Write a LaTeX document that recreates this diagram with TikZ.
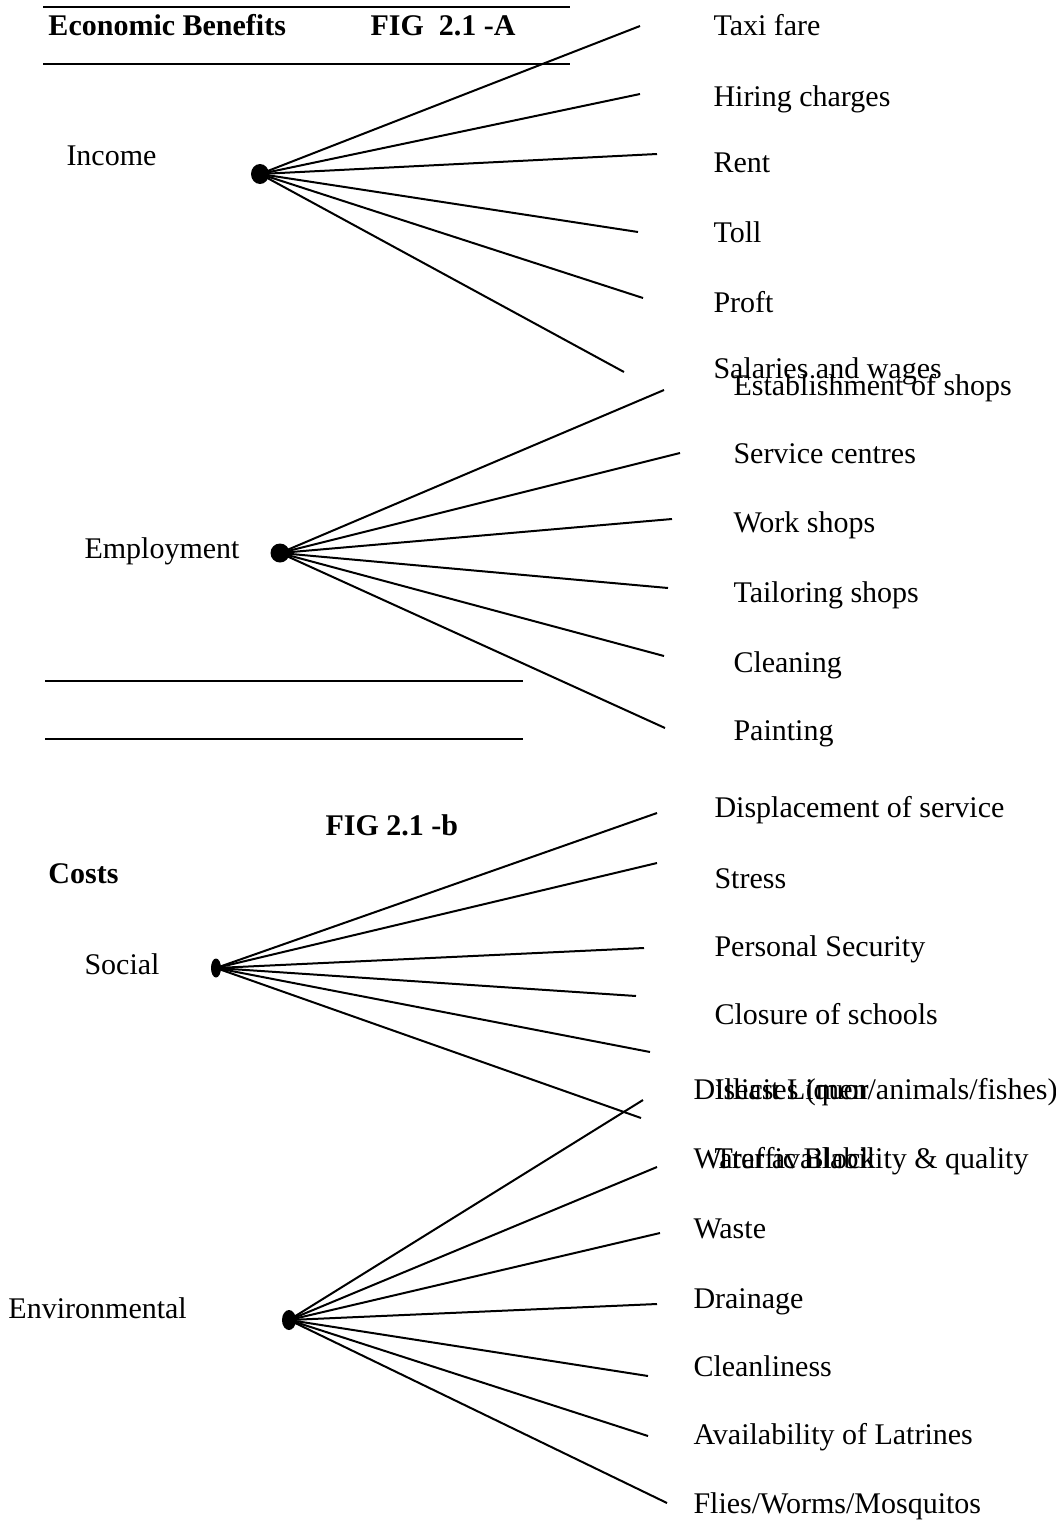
\documentclass[tikz,border=0pt]{standalone}
\usepackage{fontspec}
\setmainfont{Liberation Serif}
\usetikzlibrary{shapes.geometric}
\begin{document}
\begin{tikzpicture}[x=0.4pt,y=-0.4pt,
  lbl/.style={anchor=base west, inner sep=0pt, font=\fontsize{12}{14}\selectfont},
  hdr/.style={anchor=base west, inner sep=0pt, font=\fontsize{12}{14}\selectfont\bfseries},
  hub/.style={ellipse, fill=black, draw=none, inner sep=0pt},
  spoke/.style={line width=0.8pt},
  rulebar/.style={line width=0.9pt}]
\useasboundingbox (0,0) rectangle (1055,1520);
% header rules
\draw[rulebar] (43,7) -- (570,7);
\draw[rulebar] (43,64) -- (570,64);
\draw[rulebar] (45,681) -- (523,681);
\draw[rulebar] (45,739) -- (523,739);
% headings
\node[hdr] (hEcon) at (48,35) {Economic Benefits};
\node[hdr] (hFigA) at (370,35) {FIG~ 2.1 -A};
\node[hdr] (hFigB) at (325,835) {FIG 2.1 -b};
\node[hdr] (hCosts) at (48,883) {Costs};
% category labels
\node[lbl] (lIncome) at (66,165) {Income};
\node[lbl] (lEmp) at (84,558) {Employment};
\node[lbl] (lSoc) at (84,974) {Social};
\node[lbl] (lEnv) at (8,1318) {Environmental};
% hubs
\node[hub, minimum width=7.2pt, minimum height=8pt] (dInc) at (260,174) {};
\node[hub, minimum width=7.6pt, minimum height=7.6pt] (dEmp) at (280,553) {};
\node[hub, minimum width=4pt, minimum height=7.6pt] (dSoc) at (216,968) {};
\node[hub, minimum width=5.6pt, minimum height=8pt] (dEnv) at (289,1320) {};
% income
\coordinate (i1) at (640,26);
\coordinate (i2) at (640,94);
\coordinate (i3) at (657,154);
\coordinate (i4) at (638,232);
\coordinate (i5) at (643,298);
\coordinate (i6) at (624,372);
\foreach \c in {i1,i2,i3,i4,i5,i6} \draw[spoke] (dInc.center) -- (\c);
\node[lbl] (tI1) at (713,35) {Taxi fare};
\node[lbl] (tI2) at (713,106) {Hiring charges};
\node[lbl] (tI3) at (713,172) {Rent};
\node[lbl] (tI4) at (713,242) {Toll};
\node[lbl] (tI5) at (713,312) {Proft};
\node[lbl] (tI6) at (713,378) {Salaries and wages};
% employment
\coordinate (e1) at (664,390);
\coordinate (e2) at (680,453);
\coordinate (e3) at (672,519);
\coordinate (e4) at (668,588);
\coordinate (e5) at (664,656);
\coordinate (e6) at (665,728);
\foreach \c in {e1,e2,e3,e4,e5,e6} \draw[spoke] (dEmp.center) -- (\c);
\node[lbl] (tE1) at (733,395) {Establishment of shops};
\node[lbl] (tE2) at (733,463) {Service centres};
\node[lbl] (tE3) at (733,532) {Work shops};
\node[lbl] (tE4) at (733,602) {Tailoring shops};
\node[lbl] (tE5) at (733,672) {Cleaning};
\node[lbl] (tE6) at (733,740) {Painting};
% social
\coordinate (s1) at (657,813);
\coordinate (s2) at (657,863);
\coordinate (s3) at (644,948);
\coordinate (s4) at (636,996);
\coordinate (s5) at (650,1052);
\coordinate (s6) at (641,1118);
\foreach \c in {s1,s2,s3,s4,s5,s6} \draw[spoke] (dSoc.center) -- (\c);
\node[lbl] (tS1) at (714,817) {Displacement of service};
\node[lbl] (tS2) at (714,888) {Stress};
\node[lbl] (tS3) at (714,956) {Personal Security};
\node[lbl] (tS4) at (714,1024) {Closure of schools};
\node[lbl] (tS5) at (714,1099) {Illicit Liquor};
\node[lbl] (tS6) at (714,1168) {Traffic Block};
% environmental
\coordinate (v1) at (643,1100);
\coordinate (v2) at (657,1167);
\coordinate (v3) at (660,1233);
\coordinate (v4) at (657,1304);
\coordinate (v5) at (648,1376);
\coordinate (v6) at (648,1436);
\coordinate (v7) at (667,1503);
\foreach \c in {v1,v2,v3,v4,v5,v6,v7} \draw[spoke] (dEnv.center) -- (\c);
\node[lbl] (tV1) at (693,1099) {Diseases (men/animals/fishes)};
\node[lbl] (tV2) at (693,1168) {Water availability \& quality};
\node[lbl] (tV3) at (693,1238) {Waste};
\node[lbl] (tV4) at (693,1308) {Drainage};
\node[lbl] (tV5) at (693,1376) {Cleanliness};
\node[lbl] (tV6) at (693,1444) {Availability of Latrines};
\node[lbl] (tV7) at (693,1513) {Flies/Worms/Mosquitos};
\end{tikzpicture}
\end{document}
